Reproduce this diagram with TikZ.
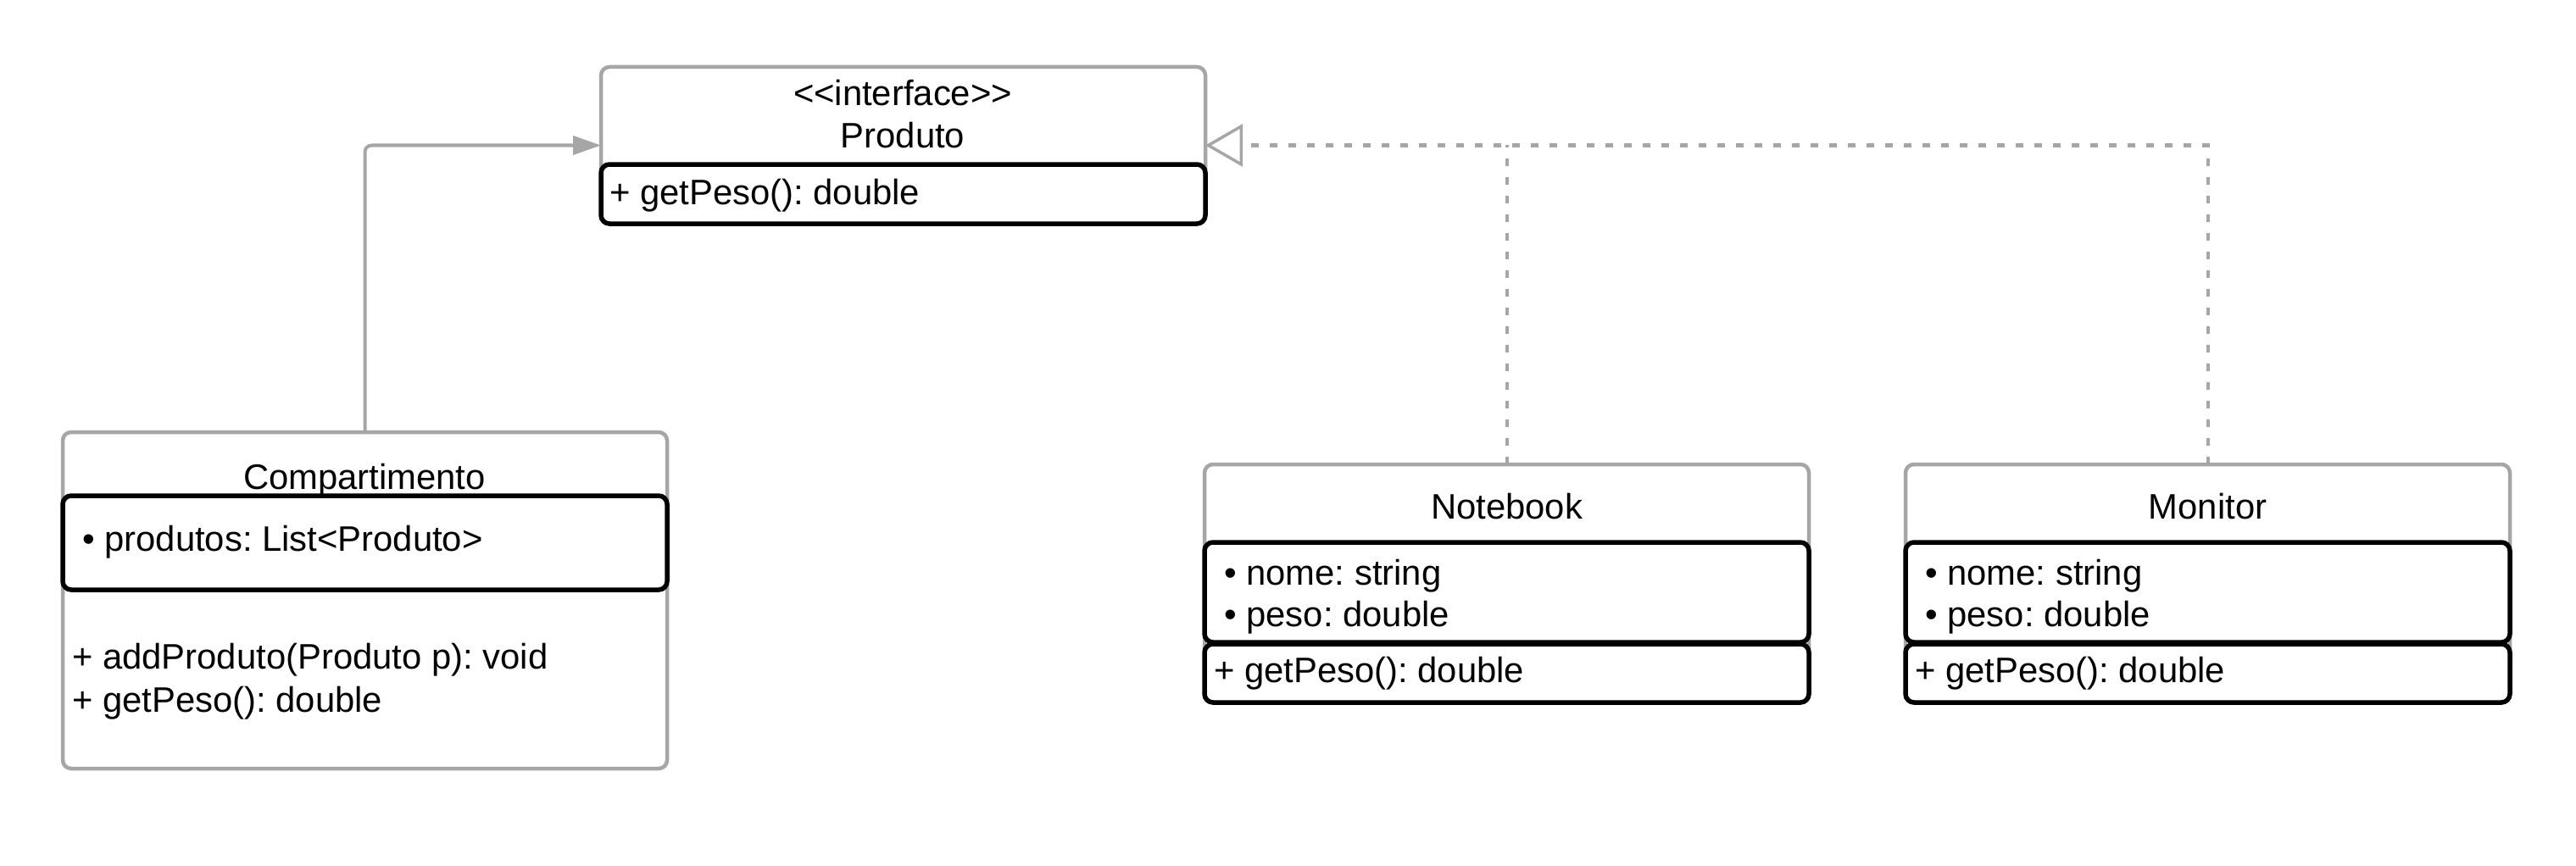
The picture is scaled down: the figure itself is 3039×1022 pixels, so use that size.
\documentclass[tikz,border=0pt]{standalone}
\usepackage{fontspec}
\setmainfont{Liberation Sans}
\usetikzlibrary{arrows.meta}
\definecolor{lngray}{HTML}{A6A6A6}
\frenchspacing
\begin{document}
\frenchspacing
\begin{tikzpicture}[x=1pt,y=-1pt,
  graybox/.style={draw=lngray,line width=4.5pt,rounded corners=10pt,inner sep=0pt,outer sep=0pt,anchor=north west,minimum width=713pt},
  blackbox/.style={draw=black,line width=5.5pt,rounded corners=10pt,inner sep=0pt,outer sep=0pt,anchor=north west,minimum width=713pt},
  txt/.style={font=\fontsize{41.8}{48}\selectfont,inner sep=0pt,text height=30pt,text depth=9pt},
  lefttxt/.style={txt,anchor=west},
  assoc/.style={draw=lngray,line width=4pt,rounded corners=8pt,-{Triangle[length=33pt,width=22pt]}},
  realz/.style={draw=lngray,line width=4pt,dash pattern=on 9pt off 13pt},
]
\useasboundingbox[fill=white] (0,0) rectangle (3039,1022);

% Produto
\node[graybox,minimum height=185pt] (produto) at (709,79) {};
\node[blackbox,minimum height=70pt] (produtoM) at (709,194) {};
\node[txt] (pst) at (1065,114) {<\kern0pt<interface>\kern0pt>};
\node[txt] (pname) at (1065,164) {Produto};
\node[lefttxt] (pm1) at (719,231) {+ getPeso(): double};

% Compartimento
\node[graybox,minimum height=397pt] (comp) at (74,510) {};
\node[blackbox,minimum height=111pt] (compA) at (74,585) {};
\node[txt] (cname) at (430,567) {Compartimento};
\node[lefttxt] (ca1) at (97,640) {• produtos: List<Produto>};
\node[lefttxt] (cm1) at (85,779) {+ addProduto(Produto p): void};
\node[lefttxt] (cm2) at (85,830) {+ getPeso(): double};

% Notebook
\node[graybox,minimum height=281pt] (nb) at (1421,548) {};
\node[blackbox,minimum height=118pt] (nbA) at (1421,640) {};
\node[blackbox,minimum height=69pt] (nbM) at (1421,760) {};
\node[txt] (nname) at (1777.5,602) {Notebook};
\node[lefttxt] (na1) at (1444,680) {• nome: string};
\node[lefttxt] (na2) at (1444,729) {• peso: double};
\node[lefttxt] (nm1) at (1432,795) {+ getPeso(): double};

% Monitor
\node[graybox,minimum height=281pt] (mon) at (2248,548) {};
\node[blackbox,minimum height=118pt] (monA) at (2248,640) {};
\node[blackbox,minimum height=69pt] (monM) at (2248,760) {};
\node[txt] (mname) at (2604.5,602) {Monitor};
\node[lefttxt] (ma1) at (2271,680) {• nome: string};
\node[lefttxt] (ma2) at (2271,729) {• peso: double};
\node[lefttxt] (mm1) at (2259,795) {+ getPeso(): double};

% connectors
\draw[assoc] (comp.north) |- (produto.west);
\draw[realz] (nb.north) -- (nb.north |- produto.east);
\draw[realz,-{Triangle[open,length=44pt,width=50pt,fill=white,line width=3.5pt]}] (mon.north) |- (produto.east);
\end{tikzpicture}
\end{document}
